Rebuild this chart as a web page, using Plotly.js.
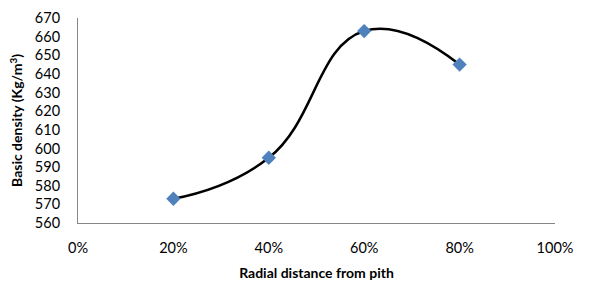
<!DOCTYPE html>
<html>
<head>
<meta charset="utf-8">
<script src="https://cdn.plot.ly/plotly-3.0.1.min.js"></script>
<style>html,body{margin:0;padding:0;background:#fff;}#chart{width:595px;height:295px;}</style>
</head>
<body>
<div id="chart"></div>
<script>
const radialDistance = [0.2, 0.4, 0.6, 0.8];
const basicDensity = [573, 595, 663, 645];
const xTitle = "Radial distance from pith";
const yTitle = "Basic density (Kg/m<sup>3</sup>)";

const font = "Lato, 'Open Sans', sans-serif";

const trace = {
  x: radialDistance,
  y: basicDensity,
  mode: "lines+markers",
  type: "scatter",
  line: {shape: "spline", smoothing: 1.3, color: "#000000", width: 2.5},
  marker: {symbol: "diamond", size: 11, color: "#4F81BD"},
  hoverinfo: "x+y"
};

const layout = {
  width: 595, height: 295,
  margin: {l: 78, r: 40, t: 18, b: 72},
  paper_bgcolor: "#ffffff",
  plot_bgcolor: "#ffffff",
  showlegend: false,
  font: {family: font, size: 14.5, color: "#000000"},
  xaxis: {
    range: [0, 1], dtick: 0.2, tick0: 0, tickformat: ".0%",
    showgrid: false, zeroline: false, showline: true,
    linecolor: "#868686", linewidth: 1,
    ticks: "outside", ticklen: 12, tickcolor: "rgba(0,0,0,0)",
    tickfont: {family: font, size: 14.5, color: "#000"},
    title: {text: "<b>" + xTitle + "</b>", font: {family: font, size: 14, color: "#000"}, standoff: 12}
  },
  yaxis: {
    range: [560, 670], dtick: 10, tick0: 560,
    showgrid: false, zeroline: false, showline: true,
    linecolor: "#868686", linewidth: 1,
    ticks: "outside", ticklen: 14, tickcolor: "rgba(0,0,0,0)",
    tickfont: {family: font, size: 14.5, color: "#000"},
    title: {text: "<b>" + yTitle + "</b>", font: {family: font, size: 14, color: "#000"}, standoff: 8}
  }
};

Plotly.newPlot("chart", [trace], layout, {displayModeBar: false, staticPlot: true});
</script>
</body>
</html>
